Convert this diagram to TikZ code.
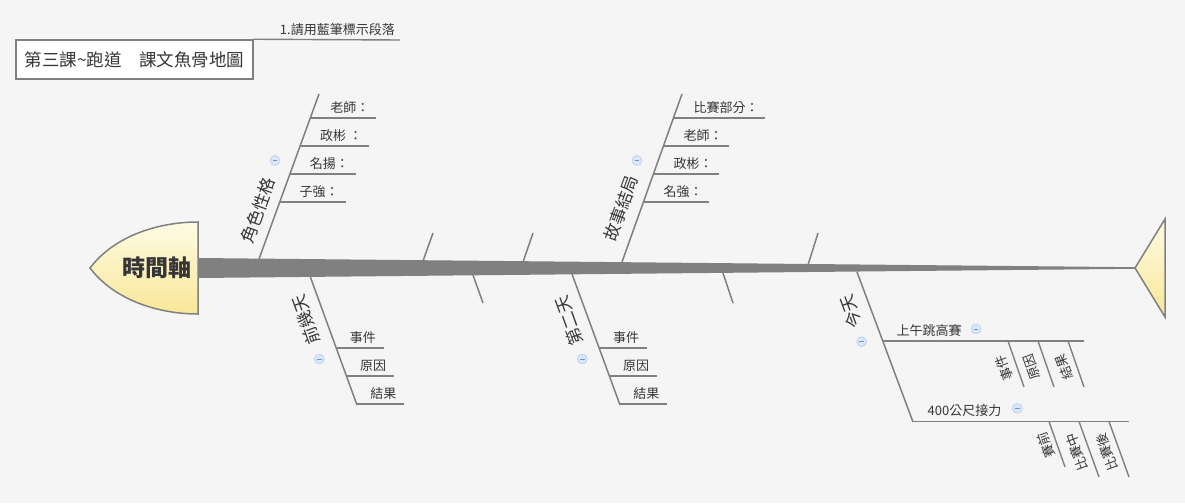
\documentclass[tikz,border=0pt]{standalone}
\usepackage{fontspec}
\setmainfont{Noto Sans CJK TC}
\usetikzlibrary{positioning, calc}
\definecolor{bonegray}{HTML}{808080}
\definecolor{inkgray}{HTML}{363636}
\definecolor{bggray}{HTML}{F5F5F5}
\definecolor{headtop}{HTML}{FEFBE4}
\definecolor{headbot}{HTML}{F8E797}
\definecolor{foldline}{HTML}{A9C3EE}
\definecolor{foldfill}{HTML}{D9E6FB}
\definecolor{foldmark}{HTML}{6F95D8}
\tikzset{
    bone/.style={draw=bonegray, line width=1.5pt},
    rib/.style={draw=bonegray, line width=1.4pt},
    lbl/.style={font=\fontsize{13}{15}\selectfont, text=inkgray, inner sep=1pt},
    cat/.style={font=\fontsize{17}{19}\selectfont, text=inkgray, inner sep=1pt},
    headfill/.style={top color=headtop, bottom color=headbot, draw=bonegray, line width=1.5pt},
    titlebox/.style={draw=bonegray, line width=1.5pt, fill=white, minimum width=237pt, minimum height=39pt, font=\fontsize{17.5}{19}\selectfont, text=inkgray},
    fold/.style={circle, draw=foldline, fill=foldfill, minimum size=10pt, inner sep=0pt,
        path picture={\draw[foldmark, line width=0.8pt] ([xshift=-2.4pt]path picture bounding box.center) -- ([xshift=2.4pt]path picture bounding box.center);}}
}
\begin{document}
\begin{tikzpicture}[x=1pt, y=-1pt]
        \useasboundingbox [fill=bggray] (0,0) rectangle (1185,503);
        % title and note
        \node [titlebox] (title) at (134.5,59.5) {第三課\textasciitilde 跑道　課文魚骨地圖};
        \coordinate (noteend) at (400,40);
        \draw [rib] (title.north east) -- (noteend);
        \node [lbl, above left=3.5pt and 4pt of noteend] (note) {1.請用藍筆標示段落};
        % bones above the spine
        \coordinate (roleA) at (259,259);
        \coordinate (roleB) at (319,94);
        \draw [bone] (roleA) -- (roleB);
        \coordinate (endA) at (622,262);
        \coordinate (endB) at (682,94);
        \draw [bone] (endA) -- (endB);
        \coordinate (tick1a) at (423,261);
        \coordinate (tick1b) at (433,233);
        \draw [bone] (tick1a) -- (tick1b);
        \coordinate (tick2a) at (523,262);
        \coordinate (tick2b) at (533,233);
        \draw [bone] (tick2a) -- (tick2b);
        \coordinate (tick3a) at (808,265);
        \coordinate (tick3b) at (818,233);
        \draw [bone] (tick3a) -- (tick3b);
        % bones below the spine
        \coordinate (beforeA) at (310,276);
        \coordinate (beforeB) at (357,405);
        \draw [bone] (beforeA) -- (beforeB);
        \coordinate (secondA) at (572,274);
        \coordinate (secondB) at (620,405);
        \draw [bone] (secondA) -- (secondB);
        \coordinate (todayA) at (857,272);
        \coordinate (todayB) at (913,422);
        \draw [bone] (todayA) -- (todayB);
        \coordinate (tick4a) at (473,275);
        \coordinate (tick4b) at (483,303);
        \draw [bone] (tick4a) -- (tick4b);
        \coordinate (tick5a) at (723,273);
        \coordinate (tick5b) at (733,303);
        \draw [bone] (tick5a) -- (tick5b);
        % spine, head and tail
        \coordinate (spinestart) at (198,268);
        \coordinate (spineend) at (1135,268);
        \fill [bonegray] ([yshift=10pt]spinestart) -- ([yshift=0.8pt]spineend) -- ([yshift=-0.8pt]spineend) -- ([yshift=-10pt]spinestart) -- cycle;
        \shade [headfill] (198,222) .. controls (160,222) and (115,235) .. (90,268) .. controls (115,301) and (160,314) .. (198,314) -- cycle;
        \node [font=\fontsize{23}{25}\selectfont\bfseries, text=inkgray] (head) at (157,268) {時間軸};
        \shade [headfill] (spineend) -- (1165,219) -- (1165,317) -- cycle;
        % 角色性格
        \node [cat, rotate=70] (role) at (258,210) {角色性格};
        \node [fold] (rolefold) at (275,160.5) {};
        \coordinate (role1) at (310.2,118);
        \coordinate (role2) at (300,146);
        \coordinate (role3) at (289.7,174);
        \coordinate (role4) at (279.5,202);
        \draw [rib] (role1) -- ++(66,0);
        \draw [rib] (role2) -- ++(69,0);
        \draw [rib] (role3) -- ++(66,0);
        \draw [rib] (role4) -- ++(66.5,0);
        \node [lbl, above right=3.5pt and 19pt of role1] (role1t) {老師：};
        \node [lbl, above right=3.5pt and 19pt of role2] (role2t) {政彬 ：};
        \node [lbl, above right=3.5pt and 19pt of role3] (role3t) {名揚：};
        \node [lbl, above right=3.5pt and 19pt of role4] (role4t) {子強：};
        % 故事結局
        \node [cat, rotate=70] (ending) at (621,208) {故事結局};
        \node [fold] (endingfold) at (637,160.5) {};
        \coordinate (end1) at (673.4,118);
        \coordinate (end2) at (663.4,146);
        \coordinate (end3) at (653.4,174);
        \coordinate (end4) at (643.4,202);
        \draw [rib] (end1) -- ++(91.6,0);
        \draw [rib] (end2) -- ++(65.6,0);
        \draw [rib] (end3) -- ++(65.6,0);
        \draw [rib] (end4) -- ++(65.6,0);
        \node [lbl, above right=3.5pt and 19pt of end1] (end1t) {比賽部分：};
        \node [lbl, above right=3.5pt and 19pt of end2] (end2t) {老師：};
        \node [lbl, above right=3.5pt and 19pt of end3] (end3t) {政彬：};
        \node [lbl, above right=3.5pt and 19pt of end4] (end4t) {名強：};
        % 前幾天
        \node [cat, rotate=110] (before) at (306,320) {前幾天};
        \node [fold] (beforefold) at (319.3,359) {};
        \coordinate (before1) at (336.1,348);
        \coordinate (before2) at (346.4,376);
        \coordinate (before3) at (356.6,404);
        \draw [rib] (before1) -- ++(48,0);
        \draw [rib] (before2) -- ++(47.6,0);
        \draw [rib] (before3) -- ++(47.4,0);
        \node [lbl, above right=3.5pt and 12.5pt of before1] (before1t) {事件};
        \node [lbl, above right=3.5pt and 12.5pt of before2] (before2t) {原因};
        \node [lbl, above right=3.5pt and 12.5pt of before3] (before3t) {結果};
        % 第二天
        \node [cat, rotate=110] (second) at (569,321) {第二天};
        \node [fold] (secondfold) at (582.3,359) {};
        \coordinate (second1) at (599.3,348);
        \coordinate (second2) at (609.5,376);
        \coordinate (second3) at (619.6,404);
        \draw [rib] (second1) -- ++(47.7,0);
        \draw [rib] (second2) -- ++(47.5,0);
        \draw [rib] (second3) -- ++(47.4,0);
        \node [lbl, above right=3.5pt and 12.5pt of second1] (second1t) {事件};
        \node [lbl, above right=3.5pt and 12.5pt of second2] (second2t) {原因};
        \node [lbl, above right=3.5pt and 12.5pt of second3] (second3t) {結果};
        % 今天
        \node [cat, rotate=110] (today) at (851,312) {今天};
        \node [fold] (todayfold) at (861.7,341.7) {};
        \coordinate (jump) at (882.8,341);
        \coordinate (jumpend) at (1084,341);
        \draw [rib] (jump) -- (jumpend);
        \node [lbl, above right=3.5pt and 12.5pt of jump] (jumpt) {上午跳高賽};
        \node [fold] (jumpfold) at (976,329) {};
        \coordinate (relay) at (913,421.5);
        \coordinate (relayend) at (1129,421.5);
        \draw [rib] (relay) -- (relayend);
        \node [lbl, above right=3.5pt and 13.5pt of relay] (relayt) {400公尺接力};
        \node [fold] (relayfold) at (1017.3,408.3) {};
        % 上午跳高賽
        \coordinate (jump1a) at (1008,341);
        \coordinate (jump1b) at (1024,387);
        \draw [rib] (jump1a) -- (jump1b);
        \coordinate (jump2a) at (1038,341);
        \coordinate (jump2b) at (1054,387);
        \draw [rib] (jump2a) -- (jump2b);
        \coordinate (jump3a) at (1068,341);
        \coordinate (jump3b) at (1084,387);
        \draw [rib] (jump3a) -- (jump3b);
        \node [lbl, rotate=110, inner sep=0pt] (jump1t) at (1004,368) {事件};
        \node [lbl, rotate=110, inner sep=0pt] (jump2t) at (1032,367) {原因};
        \node [lbl, rotate=110, inner sep=0pt] (jump3t) at (1064,367) {結果};
        % 400公尺接力
        \coordinate (relay1a) at (1049,421.5);
        \coordinate (relay1b) at (1065,467);
        \draw [rib] (relay1a) -- (relay1b);
        \coordinate (relay2a) at (1079,421.5);
        \coordinate (relay2b) at (1099,477);
        \draw [rib] (relay2a) -- (relay2b);
        \coordinate (relay3a) at (1109,421.5);
        \coordinate (relay3b) at (1129,477);
        \draw [rib] (relay3a) -- (relay3b);
        \node [lbl, rotate=110, inner sep=0pt] (relay1t) at (1046,445) {賽前};
        \node [lbl, rotate=110, inner sep=0pt] (relay2t) at (1077,452) {比賽中};
        \node [lbl, rotate=110, inner sep=0pt] (relay3t) at (1107,452) {比賽後};
    \end{tikzpicture}
\end{document}
